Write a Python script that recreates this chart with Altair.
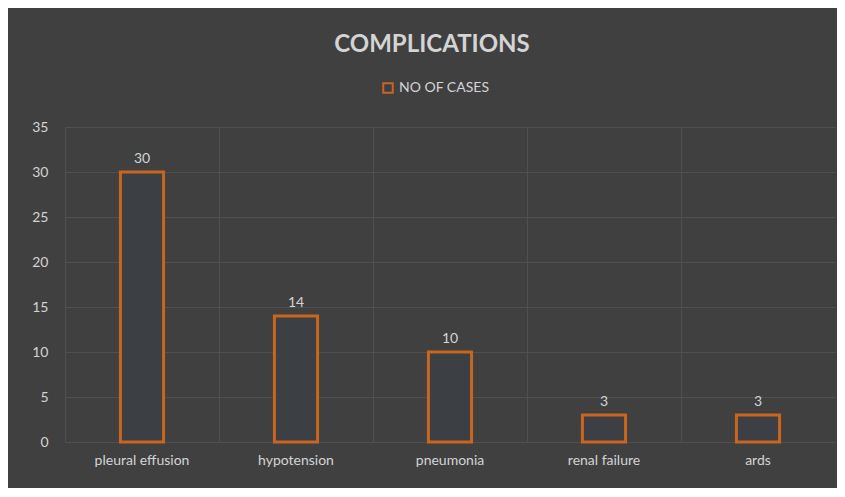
import altair as alt
import pandas as pd

categories = ["pleural effusion", "hypotension", "pneumonia", "renal failure", "ards"]
cases = [30, 14, 10, 3, 3]
series = "NO OF CASES"

df = pd.DataFrame({"category": categories, "cases": cases, "series": [series] * len(categories)})

TXT = "#d4d4d4"
ORANGE = "#c8651f"
FONT = "Lato"
GRID = "#505050"

base = alt.Chart(df).encode(
    x=alt.X("category:N", sort=categories, title=None,
            scale=alt.Scale(paddingInner=0, paddingOuter=0),
            axis=alt.Axis(labelAngle=0, labelColor=TXT, labelFontSize=14, labelFont=FONT,
                          domain=False, ticks=False, labelPadding=11,
                          grid=True, bandPosition=0, gridColor=GRID, gridWidth=1)),
    y=alt.Y("cases:Q", title=None,
            scale=alt.Scale(domain=[0, 35]),
            axis=alt.Axis(values=[0, 5, 10, 15, 20, 25, 30, 35], labelColor=TXT, labelFontSize=14,
                          labelFont=FONT, domain=False, ticks=False, labelPadding=17,
                          gridColor=GRID, gridWidth=1)),
)

bars = base.mark_bar(width=alt.RelativeBandSize(0.28), fill="#3c3f43", strokeWidth=3).encode(
    stroke=alt.Stroke("series:N", title=None,
                      scale=alt.Scale(range=[ORANGE]),
                      legend=alt.Legend(orient="none", legendX=316, legendY=-46,
                                        direction="horizontal", labelColor=TXT,
                                        labelFontSize=14, labelFont=FONT,
                                        symbolType="square", symbolSize=90,
                                        symbolStrokeWidth=2, symbolFillColor="#404040"))
)

labels = base.mark_text(dy=-13, color=TXT, fontSize=14, font=FONT).encode(text="cases:Q")

chart = alt.layer(bars, labels).properties(
    width=770,
    height=315,
    background="#404040",
    padding={"left": 57, "top": 119, "right": 2, "bottom": 46},
    autosize=alt.AutoSizeParams(type="none"),
    title=alt.TitleParams("COMPLICATIONS", color=TXT, fontSize=24, font=FONT,
                          fontWeight="bold", anchor="middle", offset=24, dx=-18),
).configure_view(stroke=None)

chart.save("out.html", embed_options={"renderer": "svg", "actions": False})
